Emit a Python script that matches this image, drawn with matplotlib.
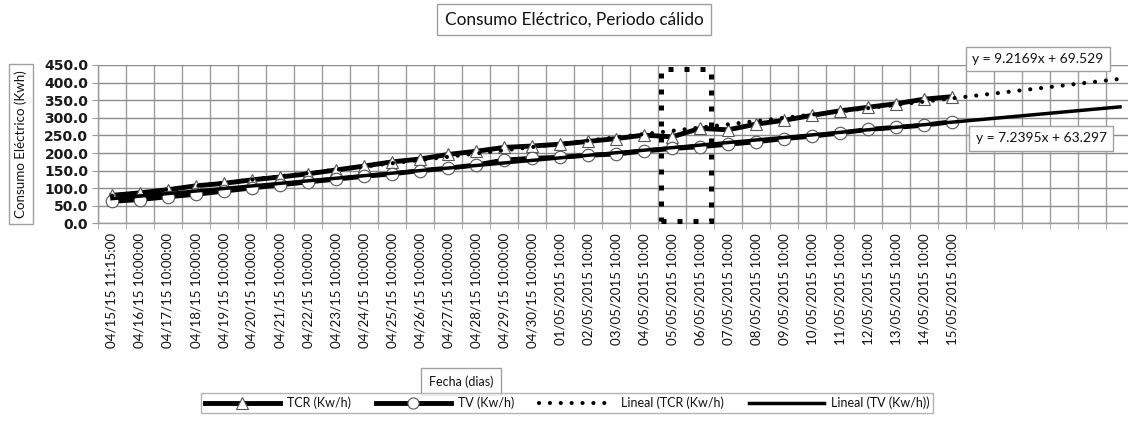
import numpy as np
import matplotlib
matplotlib.use("Agg")
import matplotlib.pyplot as plt
from matplotlib.lines import Line2D
from matplotlib.patches import Rectangle

# --- data -------------------------------------------------------------
dates = ["04/15/15 11:15:00"] + [f"04/{d}/15 10:00:00" for d in range(16, 31)] \
    + [f"{d:02d}/05/2015 10:00" for d in range(1, 16)]

tcr = [80, 87, 96, 107, 114, 124, 132, 141, 152, 163, 175, 183, 196, 205, 216,
       220, 225, 233, 241, 251, 246, 270, 266, 282, 293, 307, 320, 330, 340, 353, 360]
tv = [63, 68, 76, 83, 92, 101, 110, 118, 126, 134, 141, 150, 157, 166, 180,
      185, 188, 194, 197, 206, 213, 218, 225, 232, 241, 248, 257, 267, 273, 279, 289]

# linear trend coefficients (y = slope * x + intercept, x = 1, 2, ...)
tcr_slope, tcr_intercept = 9.2169, 69.529
tv_slope, tv_intercept = 7.2395, 63.297
forecast_periods = 6

highlight = ["05/05/2015 10:00", "06/05/2015 10:00"]

yticks = [0, 50, 100, 150, 200, 250, 300, 350, 400, 450]

title = "Consumo Eléctrico, Periodo cálido"
xlabel = "Fecha (dias)"
ylabel = "Consumo Eléctrico (Kwh)"
legend_labels = ["TCR (Kw/h)", "TV (Kw/h)", "Lineal (TCR (Kw/h)", "Lineal (TV (Kw/h))"]

# --- figure -----------------------------------------------------------
plt.rcParams["font.family"] = ["Lato", "DejaVu Sans"]
W, H = 1128, 440
fig = plt.figure(figsize=(W / 100, H / 100), dpi=100)

n = len(dates)
n_axis = n + forecast_periods
px = lambda v: v / W
py = lambda v: 1 - v / H
ax = fig.add_axes([px(98), py(223.5), (n_axis * 28) / W, 158.5 / H])

pos = np.arange(n)
grid_col = "#9c9c9c"

# category gridlines sit between categories
ax.set_xlim(-0.5, n_axis - 0.5)
ax.set_xticks(pos)
ax.set_xticklabels(dates, rotation=90, fontsize=9.6, color="#111111")
ax.set_xticks(np.arange(n_axis + 1) - 0.5, minor=True)
ax.tick_params(axis="x", which="major", length=0, pad=7)
ax.tick_params(axis="x", which="minor", length=4, color=grid_col, direction="out")
ax.grid(True, axis="x", which="minor", color=grid_col, lw=1)

ax.set_ylim(0, 450)
ax.set_yticks(yticks)
ax.set_yticklabels([f"{v:.1f}" for v in yticks], fontsize=10,
                   family="DejaVu Sans", fontweight="bold", color="#1a1a1a")
ax.tick_params(axis="y", length=4, color=grid_col, pad=3)
ax.grid(True, axis="y", color="#8c8c8c", lw=1)
ax.set_axisbelow(True)

for s in ["top", "right"]:
    ax.spines[s].set_visible(False)
for s in ["left", "bottom"]:
    ax.spines[s].set_color(grid_col)
    ax.spines[s].set_linewidth(1)

# data series
ax.plot(pos, tcr, color="black", lw=3.5, marker="^", ms=9, mfc="white",
        mec="#555555", mew=0.8, zorder=3, clip_on=False)
ax.plot(pos, tv, color="black", lw=3.5, marker="o", ms=9, mfc="white",
        mec="#555555", mew=0.8, zorder=3, clip_on=False)

# trendlines with forward forecast
xt = np.arange(1, n + forecast_periods + 1)
ax.plot(xt - 1, tcr_slope * xt + tcr_intercept, color="black", lw=3,
        linestyle=(0, (0.01, 2.6)), dash_capstyle="round", zorder=4)
ax.plot(xt - 1, tv_slope * xt + tv_intercept, color="black", lw=2.5, zorder=4)

# dotted frame around the highlighted days
i0, i1 = dates.index(highlight[0]), dates.index(highlight[1])
ax.add_patch(Rectangle((i0 - 0.4, 8), (i1 - i0) + 0.8, 432, fill=False,
                       edgecolor="black", lw=3.6, linestyle=(0, (1, 2.2)),
                       zorder=5, clip_on=False))

box = dict(boxstyle="square,pad=0.45", fc="white", ec="#a0a0a0", lw=1)

fig.text(px(574), py(19.5), title, ha="center", va="center", fontsize=12.4,
         color="#111111", bbox=box)
fig.text(px(461), py(381.5), xlabel, ha="center", va="center", fontsize=9,
         color="#111111", bbox=dict(boxstyle="square,pad=0.6", fc="white",
                                    ec="#a0a0a0", lw=1))
fig.text(px(21), py(144), ylabel, ha="center", va="center", fontsize=9.6,
         rotation=90, color="#111111", bbox=box)

fig.text(px(1038), py(59), f"y = {tcr_slope:.4f}x + {tcr_intercept:.3f}",
         ha="center", va="center", fontsize=10, color="#111111", bbox=box)
fig.text(px(1041), py(138.5), f"y = {tv_slope:.4f}x + {tv_intercept:.3f}",
         ha="center", va="center", fontsize=10, color="#111111", bbox=box)

handles = [
    Line2D([], [], color="black", lw=3.5, marker="^", ms=8, mfc="white", mec="#555555", mew=0.8),
    Line2D([], [], color="black", lw=3.5, marker="o", ms=8, mfc="white", mec="#555555", mew=0.8),
    Line2D([], [], color="black", lw=3, linestyle=(0, (0.01, 2.6)), dash_capstyle="round"),
    Line2D([], [], color="black", lw=2.5),
]
leg = fig.legend(handles, legend_labels, loc="center", bbox_to_anchor=(px(567), py(403)),
                 ncol=4, fontsize=9, frameon=True, fancybox=False, edgecolor="#a0a0a0",
                 handlelength=6.0, handletextpad=0.55, columnspacing=2.0,
                 borderpad=0.3, numpoints=1)
leg.get_frame().set_linewidth(1)
for t in leg.get_texts():
    t.set_color("#111111")

fig.savefig("out.png", dpi=100, facecolor="white")
